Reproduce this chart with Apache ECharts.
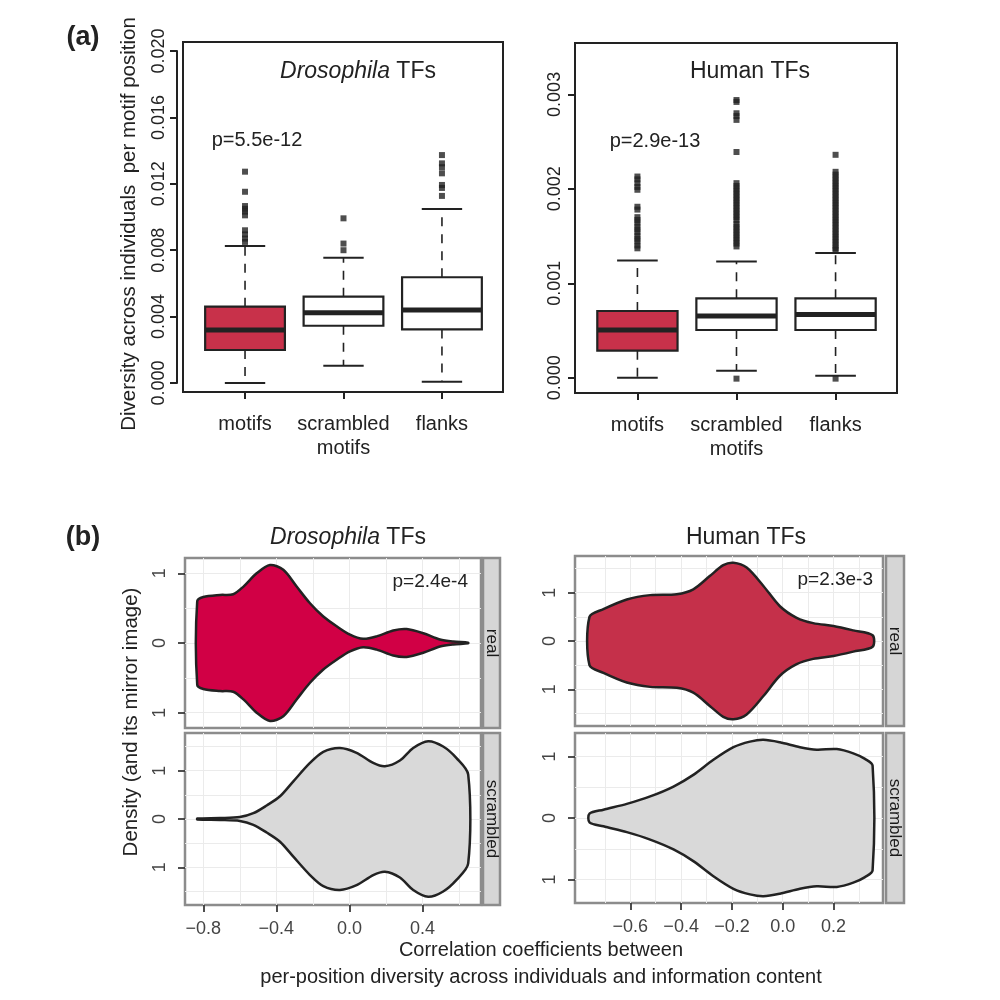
<!DOCTYPE html>
<html><head><meta charset="utf-8">
<script src="https://cdn.jsdelivr.net/npm/echarts@6/dist/echarts.min.js"></script>
<style>html,body{margin:0;padding:0;background:#fff}#c{width:1000px;height:1000px}</style>
</head><body><div id="c"></div>
<script>
// ---------------- data ----------------
const boxCategories = ['motifs', 'scrambled\nmotifs', 'flanks'];
// [min whisker, Q1, median, Q3, max whisker]
const droBoxStats = [
  [0.00000, 0.00199, 0.00320, 0.00460, 0.00825],
  [0.00104, 0.00345, 0.00424, 0.00520, 0.00755],
  [0.00008, 0.00323, 0.00440, 0.00637, 0.01048]
];
const droOutliers = [
  [0.01273, 0.01152, 0.01066, 0.01049, 0.01032, 0.01010, 0.00920, 0.00895, 0.00870, 0.00850],
  [0.00992, 0.00840, 0.00800],
  [0.01373, 0.01323, 0.01300, 0.01263, 0.01193, 0.01175, 0.01127]
];
const humBoxStats = [
  [0.000000, 0.000286, 0.000505, 0.000706, 0.00124],
  [0.000074, 0.000505, 0.000653, 0.000840, 0.00123],
  [0.000020, 0.000505, 0.000670, 0.000840, 0.00132]
];
const humOutliers = [
  [0.00213, 0.00210, 0.00206, 0.00202, 0.00199, 0.00181, 0.00178, 0.00170, 0.00167, 0.00164, 0.00160,
   0.00157, 0.00154, 0.00150, 0.00147, 0.00144, 0.00140, 0.00137],
  [0.00294, 0.00292, 0.00280, 0.00277, 0.00273, 0.00239, 0.00206, 0.00203, 0.00200, 0.00197, 0.00194,
   0.00191, 0.00188, 0.00185, 0.00182, 0.00179, 0.00176, 0.00173, 0.00170, 0.00167, 0.00163, 0.00160,
   0.00157, 0.00154, 0.00151, 0.00148, 0.00145, 0.00142, 0.00139, -0.00001],
  [0.00236, 0.00218, 0.00215, 0.00212, 0.00209, 0.00206, 0.00203, 0.00200, 0.00197, 0.00194, 0.00191,
   0.00188, 0.00185, 0.00182, 0.00179, 0.00176, 0.00173, 0.00170, 0.00167, 0.00164, 0.00161, 0.00158,
   0.00155, 0.00152, 0.00149, 0.00146, 0.00143, 0.00140, 0.00137, 0.00135, -0.00001]
];
const droYTicks = [0, 0.004, 0.008, 0.012, 0.016, 0.020];
const humYTicks = [0, 0.001, 0.002, 0.003];

// violin half-widths (density) along correlation coefficient
const droRealX = [-0.833, -0.800, -0.708, -0.636, -0.580, -0.508, -0.435, -0.362, -0.289, -0.216, -0.143, -0.070, 0.003, 0.075, 0.149, 0.240, 0.313, 0.404, 0.495, 0.568, 0.650];
const droRealD = [0.60, 0.66, 0.69, 0.70, 0.81, 1.00, 1.12, 1.05, 0.81, 0.57, 0.38, 0.24, 0.12, 0.06, 0.095, 0.18, 0.20, 0.14, 0.05, 0.02, 0.005];
const droScrX = [-0.833, -0.708, -0.600, -0.526, -0.453, -0.380, -0.307, -0.216, -0.143, -0.052, 0.039, 0.130, 0.194, 0.276, 0.349, 0.431, 0.513, 0.586, 0.650];
const droScrD = [0.01, 0.02, 0.04, 0.12, 0.28, 0.47, 0.78, 1.16, 1.39, 1.47, 1.37, 1.16, 1.09, 1.21, 1.47, 1.61, 1.50, 1.26, 0.92];
const humRealX = [-0.761, -0.706, -0.614, -0.522, -0.417, -0.352, -0.286, -0.234, -0.194, -0.142, -0.076, -0.011, 0.055, 0.120, 0.200, 0.278, 0.354];
const humRealD = [0.50, 0.66, 0.86, 0.95, 0.97, 1.07, 1.35, 1.57, 1.62, 1.52, 1.14, 0.72, 0.48, 0.37, 0.31, 0.22, 0.12];
const humScrX = [-0.761, -0.706, -0.614, -0.522, -0.430, -0.352, -0.273, -0.194, -0.129, -0.076, -0.011, 0.068, 0.134, 0.213, 0.278, 0.324, 0.354];
const humScrD = [0.07, 0.135, 0.23, 0.35, 0.51, 0.70, 0.945, 1.15, 1.24, 1.27, 1.23, 1.15, 1.11, 1.12, 1.05, 0.96, 0.85];

const droCorrTicks = [-0.8, -0.4, 0.0, 0.4];
const droCorrLines = [-0.8, -0.6, -0.4, -0.2, 0.0, 0.2, 0.4, 0.6];
const humCorrTicks = [-0.6, -0.4, -0.2, 0.0, 0.2];
const humCorrLines = [-0.7, -0.6, -0.5, -0.4, -0.3, -0.2, -0.1, 0.0, 0.1, 0.2, 0.3];
const densTicks = [-1, 0, 1];

// ---------------- styling ----------------
const FONT = '"Liberation Sans", Arial, Helvetica, sans-serif';
const INK = '#222';
const RED_BOX = '#c8314a';
const RED_DRO = '#d10045';
const RED_HUM = '#c5304a';
const GREY_V = '#d9d9d9';
const PANEL_BORDER = '#8c8c8c';
const GRIDLINE = '#ebebeb';
const TICK = '#3a3a3a';

function boxRender(fills) {
  return function (params, api) {
    const i = params.dataIndex;
    const x = api.value(0);
    const c = (v) => api.coord([x, v]);
    const pMn = c(api.value(1)), pQ1 = c(api.value(2)), pMd = c(api.value(3)), pQ3 = c(api.value(4)), pMx = c(api.value(5));
    const bw = api.size([0.81, 0])[0];
    const cw = api.size([0.41, 0])[0];
    const cx = pMd[0];
    const dash = { stroke: INK, lineWidth: 1.6, lineDash: [9, 8], fill: null };
    const solid = { stroke: INK, lineWidth: 2, fill: null };
    return { type: 'group', children: [
      { type: 'line', shape: { x1: cx, y1: pQ3[1], x2: cx, y2: pMx[1] }, style: dash },
      { type: 'line', shape: { x1: cx, y1: pQ1[1], x2: cx, y2: pMn[1] }, style: dash },
      { type: 'line', shape: { x1: cx - cw / 2, y1: pMx[1], x2: cx + cw / 2, y2: pMx[1] }, style: solid },
      { type: 'line', shape: { x1: cx - cw / 2, y1: pMn[1], x2: cx + cw / 2, y2: pMn[1] }, style: solid },
      { type: 'rect', shape: { x: cx - bw / 2, y: pQ3[1], width: bw, height: pQ1[1] - pQ3[1] }, style: { fill: fills[i], stroke: INK, lineWidth: 2.2 } },
      { type: 'line', shape: { x1: cx - bw / 2, y1: pMd[1], x2: cx + bw / 2, y2: pMd[1] }, style: { stroke: INK, lineWidth: 5 } }
    ]};
  };
}
function violinRender(xs, ds, fill) {
  return function (params, api) {
    if (params.dataIndex !== 0) return null;
    const pts = [];
    for (let k = 0; k < xs.length; k++) pts.push(api.coord([xs[k], ds[k]]));
    for (let k = xs.length - 1; k >= 0; k--) pts.push(api.coord([xs[k], -ds[k]]));
    return { type: 'polygon', shape: { points: pts, smooth: 0.3 }, style: { fill: fill, stroke: INK, lineWidth: 2.5 } };
  };
}
function boxData(stats) { return stats.map((s, i) => [i + 1].concat(s)); }
function outData(outs) { const r = []; outs.forEach((arr, i) => arr.forEach(v => r.push([i + 1, v]))); return r; }
function violinData(xs, ds) { return xs.map((x, k) => [x, ds[k]]); }

const minus = (s) => s.replace('-', '\u2212');

// axis helpers
function hiddenAxis(gridIndex, min, max) {
  return { type: 'value', gridIndex, min, max, axisLine: { show: false, onZero: false }, axisTick: { show: false }, axisLabel: { show: false }, splitLine: { show: false } };
}
function lineAxis(gridIndex, min, max, lines, position) {
  return { type: 'value', gridIndex, min, max, position,
    axisLine: { show: false, onZero: false }, axisTick: { show: false, customValues: lines }, axisLabel: { show: false, customValues: lines },
    splitLine: { show: true, lineStyle: { color: GRIDLINE, width: 1 } } };
}
function densXAxis(gridIndex, min, max, ticks) {
  return { type: 'value', gridIndex, min, max, position: 'bottom', z: 10,
    axisLine: { show: false, onZero: false },
    axisTick: { show: true, length: 7, customValues: ticks, lineStyle: { color: TICK, width: 1.8 } },
    axisLabel: { customValues: ticks, margin: 15, fontSize: 18, fontFamily: FONT, color: '#444',
      formatter: (v) => minus(v.toFixed(1)) },
    splitLine: { show: false } };
}
function densYAxis(gridIndex, lim) {
  return { type: 'value', gridIndex, min: -lim, max: lim, position: 'left', z: 10,
    axisLine: { show: false, onZero: false },
    axisTick: { show: true, length: 7, customValues: densTicks, lineStyle: { color: TICK, width: 1.8 } },
    axisLabel: { customValues: densTicks, rotate: 90, margin: 16, fontSize: 18, fontFamily: FONT, color: '#444',
      formatter: (v) => String(Math.abs(v)) },
    splitLine: { show: false } };
}
function catAxis(gridIndex) {
  return { type: 'value', gridIndex, min: 0.37, max: 3.62, position: 'bottom',
    axisLine: { show: false, onZero: false },
    axisTick: { show: true, length: 7, customValues: [1, 2, 3], lineStyle: { color: INK, width: 2 } },
    axisLabel: { customValues: [1, 2, 3], margin: 20, fontSize: 20, lineHeight: 24, fontFamily: FONT, color: INK,
      formatter: (v) => boxCategories[Math.round(v) - 1] },
    splitLine: { show: false } };
}

const panelGrid = (left, top, width, height) => ({ left, top, width, height, show: true, borderColor: PANEL_BORDER, borderWidth: 2.5, backgroundColor: '#fff' });

function text(x, y, str, size, extra) {
  return { type: 'text', x, y, z: 100, style: Object.assign({ text: str, fontSize: size, fontFamily: FONT, fill: INK, align: 'center', verticalAlign: 'middle' }, extra || {}) };
}
function rtext(x, y, str, size, rot, extra) {
  const t = text(x, y, str, size, extra); t.rotation = rot; return t;
}
function strip(x, y, w, h, label) {
  return [
    { type: 'rect', z: 90, shape: { x, y, width: w, height: h }, style: { fill: '#d6d6d6', stroke: PANEL_BORDER, lineWidth: 2.5 } },
    rtext(x + w / 2, y + h / 2, label, 17, -Math.PI / 2, { fill: '#1a1a1a' })
  ];
}
const italicTitle = (x, y) => ({ type: 'text', x, y, z: 100, style: { text: '{i|Drosophila} TFs', fontSize: 23, fontFamily: FONT, fill: INK, align: 'center', verticalAlign: 'middle',
  rich: { i: { fontStyle: 'italic', fontSize: 23, fontFamily: FONT, fill: INK } } } });

const option = {
  animation: false,
  backgroundColor: '#fff',
  grid: [
    { left: 183, top: 42, width: 320, height: 350, show: true, borderColor: INK, borderWidth: 2, backgroundColor: 'transparent' }, // 0
    { left: 575, top: 43, width: 322, height: 350, show: true, borderColor: INK, borderWidth: 2, backgroundColor: 'transparent' }, // 1
    panelGrid(185, 558, 296, 170), // 2
    panelGrid(185, 733, 296, 172), // 3
    panelGrid(575, 556, 308, 170), // 4
    panelGrid(575, 733, 308, 170), // 5
    { left: 177, top: 51, width: 1, height: 332, show: false } // 6 (left axis line of top-left panel)
  ],
  xAxis: [
    catAxis(0),                                         // 0
    catAxis(1),                                         // 1
    lineAxis(2, -0.9, 0.72, droCorrLines, 'top'),       // 2
    densXAxis(3, -0.9, 0.72, droCorrTicks),             // 3
    lineAxis(3, -0.9, 0.72, droCorrLines, 'top'),       // 4
    lineAxis(4, -0.818, 0.395, humCorrLines, 'top'),    // 5
    densXAxis(5, -0.818, 0.395, humCorrTicks),          // 6
    lineAxis(5, -0.818, 0.395, humCorrLines, 'top'),    // 7
    hiddenAxis(6, 0, 1)                                 // 8
  ],
  yAxis: [
    hiddenAxis(0, -0.00054, 0.02054),                   // 0
    { type: 'value', gridIndex: 1, min: -0.000162, max: 0.003544, position: 'left',
      axisLine: { show: false, onZero: false },
      axisTick: { show: true, length: 7, customValues: humYTicks, lineStyle: { color: INK, width: 2 } },
      axisLabel: { customValues: humYTicks, rotate: 90, margin: 11, fontSize: 18, fontFamily: FONT, color: INK, formatter: (v) => v.toFixed(3) },
      splitLine: { show: false } },                     // 1
    densYAxis(2, 1.22),                                 // 2
    lineAxis(2, -1.22, 1.22, [-1, -0.5, 0, 0.5, 1], 'right'),   // 3
    densYAxis(3, 1.78),                                 // 4
    lineAxis(3, -1.78, 1.78, [-1.5, -1, -0.5, 0, 0.5, 1, 1.5], 'right'), // 5
    densYAxis(4, 1.76),                                 // 6
    lineAxis(4, -1.76, 1.76, [-1.5, -1, -0.5, 0, 0.5, 1, 1.5], 'right'), // 7
    densYAxis(5, 1.38),                                 // 8
    lineAxis(5, -1.38, 1.38, [-1, -0.5, 0, 0.5, 1], 'right'),   // 9
    { type: 'value', gridIndex: 6, min: 0, max: 0.02, interval: 0.004, position: 'left',
      axisLine: { show: true, onZero: false, lineStyle: { color: INK, width: 2 } },
      axisTick: { show: true, length: 7, lineStyle: { color: INK, width: 2 } },
      axisLabel: { rotate: 90, margin: 9, fontSize: 18, fontFamily: FONT, color: INK, formatter: (v) => v.toFixed(3) },
      splitLine: { show: false } }                      // 10
  ],
  series: [
    { type: 'custom', xAxisIndex: 0, yAxisIndex: 0, renderItem: boxRender([RED_BOX, '#fff', '#fff']), data: boxData(droBoxStats), encode: { x: 0, y: [1, 2, 3, 4, 5] }, z: 2 },
    { type: 'scatter', xAxisIndex: 0, yAxisIndex: 0, symbol: 'rect', symbolSize: 6, itemStyle: { color: INK }, data: outData(droOutliers), z: 3 },
    { type: 'custom', xAxisIndex: 1, yAxisIndex: 1, renderItem: boxRender([RED_BOX, '#fff', '#fff']), data: boxData(humBoxStats), encode: { x: 0, y: [1, 2, 3, 4, 5] }, z: 2 },
    { type: 'scatter', xAxisIndex: 1, yAxisIndex: 1, symbol: 'rect', symbolSize: 6, itemStyle: { color: INK }, data: outData(humOutliers), z: 3 },
    { type: 'custom', xAxisIndex: 2, yAxisIndex: 2, renderItem: violinRender(droRealX, droRealD, RED_DRO), data: violinData(droRealX, droRealD), z: 2 },
    { type: 'custom', xAxisIndex: 3, yAxisIndex: 4, renderItem: violinRender(droScrX, droScrD, GREY_V), data: violinData(droScrX, droScrD), z: 2 },
    { type: 'custom', xAxisIndex: 5, yAxisIndex: 6, renderItem: violinRender(humRealX, humRealD, RED_HUM), data: violinData(humRealX, humRealD), z: 2 },
    { type: 'custom', xAxisIndex: 6, yAxisIndex: 8, renderItem: violinRender(humScrX, humScrD, GREY_V), data: violinData(humScrX, humScrD), z: 2 }
  ],
  graphic: [
    text(83, 38, '(a)', 27, { fontWeight: 'bold' }),
    text(83, 538, '(b)', 27, { fontWeight: 'bold' }),
    italicTitle(358, 72),
    text(750, 72, 'Human TFs', 23),
    text(257, 140, 'p=5.5e-12', 20),
    text(655, 141, 'p=2.9e-13', 20),
    rtext(129, 224, 'Diversity across individuals  per motif position', 20.5, Math.PI / 2),
    italicTitle(348, 538),
    text(746, 538, 'Human TFs', 23),
    text(468, 582, 'p=2.4e-4', 19, { align: 'right', fill: '#222' }),
    text(873, 580, 'p=2.3e-3', 19, { align: 'right', fill: '#222' }),
    rtext(131, 722, 'Density (and its mirror image)', 20.5, Math.PI / 2),
    text(541, 950, 'Correlation coefficients between', 20),
    text(541, 977, 'per-position diversity across individuals and information content', 20)
  ].concat(strip(483, 558, 17, 170, 'real'), strip(483, 733, 17, 172, 'scrambled'),
           strip(886, 556, 18, 170, 'real'), strip(886, 733, 18, 170, 'scrambled'))
};

const chart = echarts.init(document.getElementById('c'), null, { renderer: 'canvas' });
chart.setOption(option);
</script>
</body></html>
